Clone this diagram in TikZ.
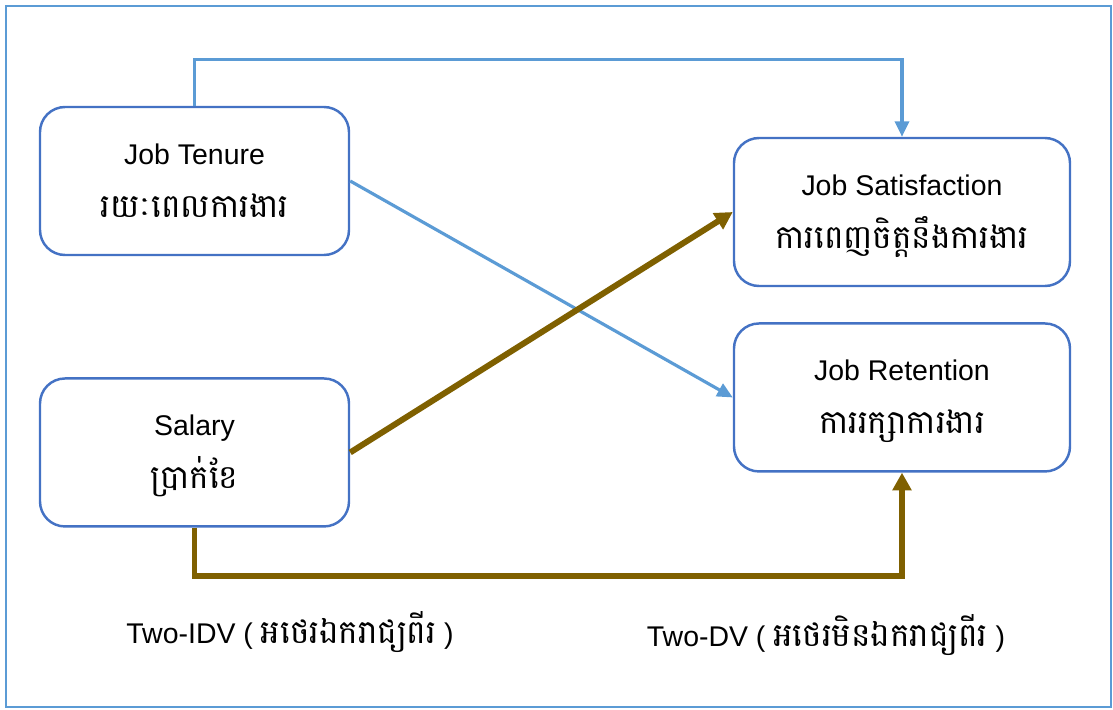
\documentclass[tikz,border=0pt]{standalone}
\usepackage{fontspec}
\setmainfont{Liberation Sans}
\newfontfamily\khmer[Script=Khmer]{Battambang}
\usetikzlibrary{positioning,arrows.meta}

\definecolor{boxblue}{HTML}{4472C4}
\definecolor{lineblue}{HTML}{5B9BD5}
\definecolor{linebrown}{HTML}{7F6000}

\newcommand{\kh}[1]{{\khmer\fontsize{9.3}{15}\selectfont #1}}

\begin{document}
\begin{tikzpicture}[
      factor/.style={
        rectangle,
        rounded corners=2.5mm,
        draw=boxblue,
        line width=0.7pt,
        fill=white,
        align=center,
        text centered,
        text height=7.4mm,
        text depth=0.2mm,
        minimum width=30.9mm,
        minimum height=14.8mm,
        font=\fontsize{8.1}{15}\selectfont
      },
      linkA/.style={line width=0.9pt, draw=lineblue, -{Triangle[length=4.4pt,width=4pt]}},
      linkB/.style={line width=1.7pt, draw=linebrown, -{Triangle[length=5pt,width=5.2pt]}}
    ]

    % Frame
    \useasboundingbox (0,0) rectangle (11.13,7.09);
    \draw[lineblue, line width=0.6pt] (0.06,0.02) rectangle (11.11,7.03);

    % Independent variables
    \node[factor] (tenure) at (1.945,5.28) {Job Tenure\\\kh{រយៈពេលការងារ}};
    \node[factor, below=12.1mm of tenure] (salary) {Salary\\\kh{ប្រាក់ខែ}};

    % Dependent variables
    \node[factor, minimum width=33.6mm] (satisf) at (9.02,4.97) {Job Satisfaction\\\kh{ការពេញចិត្តនឹងការងារ}};
    \node[factor, minimum width=33.6mm, below=3.5mm of satisf] (retain) {Job Retention\\\kh{ការរក្សាការងារ}};

    % Links from job tenure
    \draw[linkA] (tenure.north) -- ++(0,0.46) -| (satisf.north);
    \draw[linkA] (tenure.east) -- (retain.west);

    % Links from salary
    \draw[linkB] (salary.south) -- ++(0,-0.48) -| (retain.south);
    \draw[linkB] (salary.east) -- (satisf.west);

    % Group labels
    \node[font=\fontsize{8.1}{10}\selectfont] (idv) at (2.9,0.77) {Two-IDV ( \kh{អថេរឯករាជ្យពីរ} )};
    \node[font=\fontsize{8.1}{10}\selectfont] (dv) at (8.26,0.74) {Two-DV ( \kh{អថេរមិនឯករាជ្យពីរ} )};
\end{tikzpicture}
\end{document}
